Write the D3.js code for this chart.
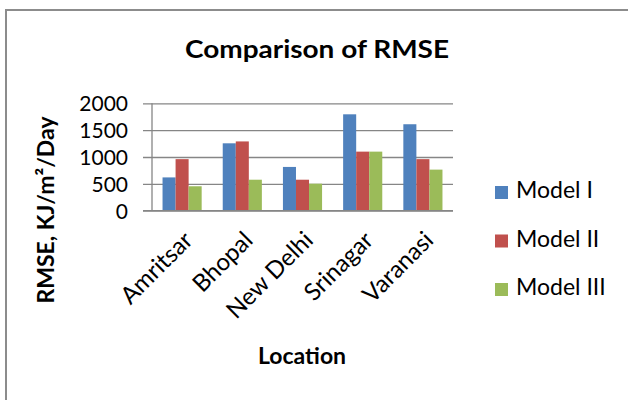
<!DOCTYPE html>
<html>
<head>
<meta charset="utf-8">
<script src="https://cdn.jsdelivr.net/npm/d3@7"></script>
<style>
  html, body { margin: 0; padding: 0; background: #fff; }
  svg { display: block; }
  text { font-family: Lato, "Open Sans", sans-serif; fill: #000; }
</style>
</head>
<body>
<svg id="chart" width="628" height="400"></svg>
<script>
// Chart data
const locations = ["Amritsar", "Bhopal", "New Delhi", "Srinagar", "Varanasi"];
const seriesNames = ["Model I", "Model II", "Model III"];
const modelI   = [620, 1255, 815, 1795, 1610];
const modelII  = [960, 1290, 577, 1100, 960];
const modelIII = [455, 577, 503, 1100, 765];
const yTicks = [0, 500, 1000, 1500, 2000];
const colors = ["#4F81BD", "#C0504D", "#9BBB59"];

const seriesValues = [modelI, modelII, modelIII];

const svg = d3.select("#chart");

// Outer frame of the chart area
svg.append("rect")
  .attr("x", 6).attr("y", 10)
  .attr("width", 700).attr("height", 500)
  .attr("fill", "#fff")
  .attr("stroke", "#8c8c8c")
  .attr("stroke-width", 2);

const plot = { left: 152, right: 453, top: 103.3, bottom: 210.7 };

const x = d3.scaleBand()
  .domain(locations)
  .range([plot.left, plot.right])
  .paddingInner(0.35)
  .paddingOuter(0.175);

const xs = d3.scaleBand()
  .domain(seriesNames)
  .range([0, x.bandwidth()]);

const y = d3.scaleLinear()
  .domain([0, 2000])
  .range([plot.bottom, plot.top]);

// Horizontal gridlines and value labels
const yAxis = d3.axisLeft(y)
  .tickValues(yTicks)
  .tickSize(-(plot.right - plot.left))
  .tickSizeOuter(0)
  .tickFormat(d3.format("d"));

const gy = svg.append("g")
  .attr("transform", `translate(${plot.left},0)`)
  .call(yAxis);
gy.select(".domain").remove();
gy.selectAll(".tick line")
  .attr("x1", -9)
  .attr("stroke", "#868686")
  .attr("stroke-width", 1.3);
gy.selectAll(".tick text")
  .attr("x", -24)
  .attr("dy", "0.36em")
  .style("font-size", "21px")
  .style("font-family", "Lato, sans-serif")
  .attr("fill", "#000");

// Vertical axis line
svg.append("line")
  .attr("x1", plot.left).attr("x2", plot.left)
  .attr("y1", plot.top).attr("y2", plot.bottom)
  .attr("stroke", "#868686")
  .attr("stroke-width", 1.3);

// Bars
const rows = locations.map((loc, i) => ({
  loc,
  vals: seriesNames.map((s, j) => ({ s, j, v: seriesValues[j][i] }))
}));

svg.append("g")
  .selectAll("g")
  .data(rows)
  .join("g")
  .attr("transform", d => `translate(${x(d.loc)},0)`)
  .selectAll("rect")
  .data(d => d.vals)
  .join("rect")
  .attr("x", d => xs(d.s))
  .attr("width", xs.bandwidth())
  .attr("y", d => y(d.v))
  .attr("height", d => y(0) - y(d.v))
  .attr("fill", d => colors[d.j]);

// Category labels, rotated
const gx = svg.append("g")
  .attr("transform", `translate(0,${plot.bottom})`)
  .call(d3.axisBottom(x).tickSize(0).tickPadding(0));
gx.select(".domain").remove();
gx.selectAll(".tick text")
  .attr("text-anchor", "end")
  .attr("dy", null)
  .attr("y", 0)
  .attr("transform", "translate(12,31) rotate(-45)")
  .style("font-size", "24px")
  .style("font-family", "Lato, sans-serif")
  .attr("fill", "#000");

// Horizontal axis line
svg.append("line")
  .attr("x1", plot.left - 9).attr("x2", plot.right)
  .attr("y1", plot.bottom).attr("y2", plot.bottom)
  .attr("stroke", "#868686")
  .attr("stroke-width", 1.3);

// Title
svg.append("text")
  .attr("x", 317).attr("y", 58)
  .attr("text-anchor", "middle")
  .attr("textLength", 264)
  .attr("lengthAdjust", "spacingAndGlyphs")
  .style("font-size", "25px")
  .style("font-weight", "bold")
  .text("Comparison of RMSE");

// Axis titles
svg.append("text")
  .attr("transform", "translate(54,210) rotate(-90)")
  .attr("text-anchor", "middle")
  .style("font-size", "23px")
  .style("font-weight", "bold")
  .text("RMSE, KJ/m²/Day");

svg.append("text")
  .attr("x", 302).attr("y", 364)
  .attr("text-anchor", "middle")
  .style("font-size", "23px")
  .style("font-weight", "bold")
  .text("Location");

// Legend
const legend = svg.append("g")
  .selectAll("g")
  .data(seriesNames)
  .join("g")
  .attr("transform", (d, i) => `translate(495,${198 + i * 48.5})`);
legend.append("rect")
  .attr("x", 0).attr("y", -12)
  .attr("width", 13).attr("height", 13)
  .attr("fill", (d, i) => colors[i]);
legend.append("text")
  .attr("x", 21).attr("y", 0)
  .style("font-size", "23px")
  .text(d => d);
</script>
</body>
</html>
